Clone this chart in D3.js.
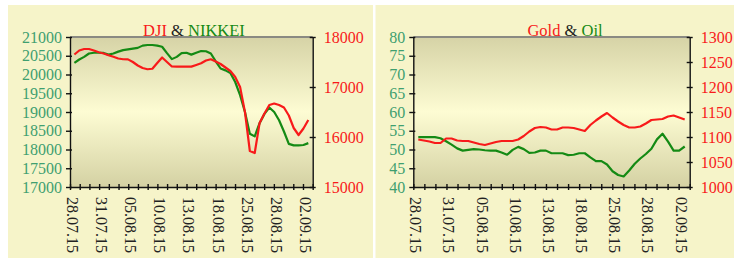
<!DOCTYPE html>
<html>
<head>
<meta charset="utf-8">
<script src="https://cdn.jsdelivr.net/npm/d3@7"></script>
<style>
  body { margin: 0; background: #ffffff; }
</style>
</head>
<body>
<div id="chart"></div>
<script>
// Tick labels for the date axis (one tick per trading day, label every 3rd)
var tickLabels = ["28.07.15","","","31.07.15","","","05.08.15","","","10.08.15","","",
    "13.08.15","","","18.08.15","","","25.08.15","","","28.08.15","","","02.09.15",""];

// DJI (right axis) and NIKKEI (left axis)
var dji = [17650, 17730, 17760, 17760, 17730, 17695, 17670, 17635, 17605, 17570,
    17555, 17553, 17500, 17430, 17380, 17355, 17365, 17480, 17590, 17500,
    17410, 17407, 17407, 17407, 17407, 17440, 17475, 17530, 17555, 17510,
    17460, 17390, 17320, 17200, 17000, 16500, 15720, 15680, 16280, 16470,
    16640, 16670, 16640, 16590, 16430, 16180, 16040, 16170, 16340];
var nikkei = [20310, 20400, 20470, 20560, 20580, 20580, 20575, 20530, 20560, 20610,
    20650, 20670, 20690, 20710, 20770, 20787, 20787, 20770, 20740, 20570,
    20410, 20470, 20570, 20580, 20530, 20580, 20627, 20620, 20560, 20350,
    20160, 20110, 20040, 19800, 19450, 19000, 18420, 18350, 18700, 18950,
    19120, 19000, 18780, 18480, 18150, 18110, 18110, 18120, 18170];

// Gold (right axis) and Oil (left axis)
var gold = [1095, 1093, 1091, 1088, 1088, 1097, 1097, 1093, 1092, 1092,
    1089, 1086, 1084, 1087, 1090, 1092, 1092, 1092, 1095, 1102,
    1111, 1118, 1120, 1119, 1115, 1115, 1119, 1119, 1118, 1115,
    1112, 1124, 1133, 1141, 1148, 1139, 1131, 1124, 1119, 1119,
    1121, 1127, 1134, 1135, 1136, 1141, 1143, 1139, 1135];
var oil = [53.3, 53.3, 53.3, 53.3, 53.0, 52.2, 51.3, 50.3, 49.7, 49.9,
    50.1, 50.0, 49.8, 49.7, 49.7, 49.2, 48.6, 49.9, 50.7, 50.1,
    49.1, 49.2, 49.7, 49.7, 49.0, 49.0, 49.0, 48.5, 48.6, 49.0,
    49.0, 47.9, 46.9, 46.9, 46.0, 44.2, 43.2, 42.8, 44.4, 46.2,
    47.6, 48.8, 50.2, 52.7, 54.2, 52.1, 49.7, 49.7, 50.8];

var width = 734;
var height = 262;

var RED = "#f81a1a";
var GREEN = "#148a14";
var TEAL = "#3f9f70";
var FONT = "'Liberation Serif', 'Times New Roman', serif";

var svg = d3.select("#chart")
    .append("svg")
    .attr("width", width)
    .attr("height", height);

svg.append("rect").attr("width", width).attr("height", height).attr("fill", "#ffffff");

// panel backgrounds
svg.append("rect").attr("x", 8).attr("y", 5).attr("width", 365).attr("height", 253).attr("fill", "#f6f4c9");
svg.append("rect").attr("x", 375.5).attr("y", 5).attr("width", 359).attr("height", 253).attr("fill", "#f6f4c9");

// gradient for plot areas
var grad = svg.append("defs").append("linearGradient")
    .attr("id", "plotGrad")
    .attr("x1", 0).attr("y1", 0).attr("x2", 0).attr("y2", 1);
grad.append("stop").attr("offset", "0%").attr("stop-color", "#d6d3a6");
grad.append("stop").attr("offset", "50%").attr("stop-color", "#fdfcd3");
grad.append("stop").attr("offset", "100%").attr("stop-color", "#d4d1a3");

function drawChart(cfg) {
    var g = svg.append("g");
    var w = cfg.x1 - cfg.x0;

    // tick scale for the date axis
    var xt = d3.scaleLinear().domain([0, tickLabels.length - 1]).range([cfg.x0, cfg.x1]);
    // data scale, points inset a bit from the edges
    var xs = d3.scalePoint().domain(d3.range(cfg.leftData.length)).range([cfg.x0, cfg.x1]).padding(0.9);

    var yl = d3.scaleLinear().domain(cfg.leftDomain).range([cfg.y1, cfg.y0]);
    var yr = d3.scaleLinear().domain(cfg.rightDomain).range([cfg.y1, cfg.y0]);

    g.append("rect")
        .attr("x", cfg.x0).attr("y", cfg.y0)
        .attr("width", w).attr("height", cfg.y1 - cfg.y0)
        .attr("fill", "url(#plotGrad)");

    // top border
    g.append("line")
        .attr("x1", cfg.x0).attr("x2", cfg.x1)
        .attr("y1", cfg.y0).attr("y2", cfg.y0)
        .attr("stroke", "#8a8a82").attr("stroke-width", 2);

    // lines
    var lineL = d3.line().x(function(d, i) { return xs(i); }).y(function(d) { return yl(d); });
    var lineR = d3.line().x(function(d, i) { return xs(i); }).y(function(d) { return yr(d); });

    g.append("path").datum(cfg.leftData)
        .attr("d", lineL)
        .attr("fill", "none").attr("stroke", GREEN).attr("stroke-width", 2.2)
        .attr("stroke-linejoin", "round");
    g.append("path").datum(cfg.rightData)
        .attr("d", lineR)
        .attr("fill", "none").attr("stroke", RED).attr("stroke-width", 2.2)
        .attr("stroke-linejoin", "round");

    // left axis
    var axL = g.append("g")
        .attr("transform", "translate(" + cfg.x0 + ",0)")
        .call(d3.axisLeft(yl).tickValues(d3.range(cfg.leftDomain[0], cfg.leftDomain[1] + 0.001, cfg.leftStep))
            .tickFormat(d3.format("d"))
            .tickSize(4).tickSizeOuter(0).tickPadding(4));
    axL.selectAll(".tick line").attr("x1", 2);
    axL.selectAll("text").attr("fill", TEAL);

    // right axis
    var axR = g.append("g")
        .attr("transform", "translate(" + cfg.x1 + ",0)")
        .call(d3.axisRight(yr).tickValues(d3.range(cfg.rightDomain[0], cfg.rightDomain[1] + 0.001, cfg.rightStep))
            .tickFormat(d3.format("d"))
            .tickSize(3).tickSizeOuter(0).tickPadding(8));
    axR.selectAll(".tick line").attr("x1", -3);
    axR.selectAll("text").attr("fill", RED);

    // bottom axis
    var axB = g.append("g")
        .attr("transform", "translate(0," + cfg.y1 + ")")
        .call(d3.axisBottom(xt).tickValues(d3.range(tickLabels.length))
            .tickFormat(function(d) { return tickLabels[d]; })
            .tickSize(3).tickSizeOuter(0));
    axB.selectAll(".tick line").attr("y1", -3);
    axB.selectAll("text")
        .attr("fill", "#222")
        .attr("transform", "rotate(90)")
        .attr("x", 10).attr("y", 0).attr("dy", "0.22em")
        .attr("text-anchor", "start");

    [axL, axR, axB].forEach(function(a) {
        a.attr("font-family", FONT).attr("font-size", 16);
        a.selectAll(".domain, .tick line").attr("stroke", "#111").attr("stroke-width", 1.4);
    });

    // title
    var t = g.append("text")
        .attr("x", cfg.titleX).attr("y", 35.5)
        .attr("text-anchor", "middle")
        .attr("font-family", FONT).attr("font-size", 16.5);
    t.append("tspan").attr("fill", RED).text(cfg.titleParts[0]);
    t.append("tspan").attr("fill", "#222").text(" & ");
    t.append("tspan").attr("fill", GREEN).text(cfg.titleParts[1]);
}

drawChart({
    x0: 70, x1: 312.7, y0: 37, y1: 187,
    leftData: nikkei, rightData: dji,
    leftDomain: [17000, 21000], leftStep: 500,
    rightDomain: [15000, 18000], rightStep: 1000,
    titleX: 194, titleParts: ["DJI", "NIKKEI"]
});

drawChart({
    x0: 413.3, x1: 689.7, y0: 37, y1: 187,
    leftData: oil, rightData: gold,
    leftDomain: [40, 80], leftStep: 5,
    rightDomain: [1000, 1300], rightStep: 50,
    titleX: 565, titleParts: ["Gold", "Oil"]
});
</script>
</body>
</html>
